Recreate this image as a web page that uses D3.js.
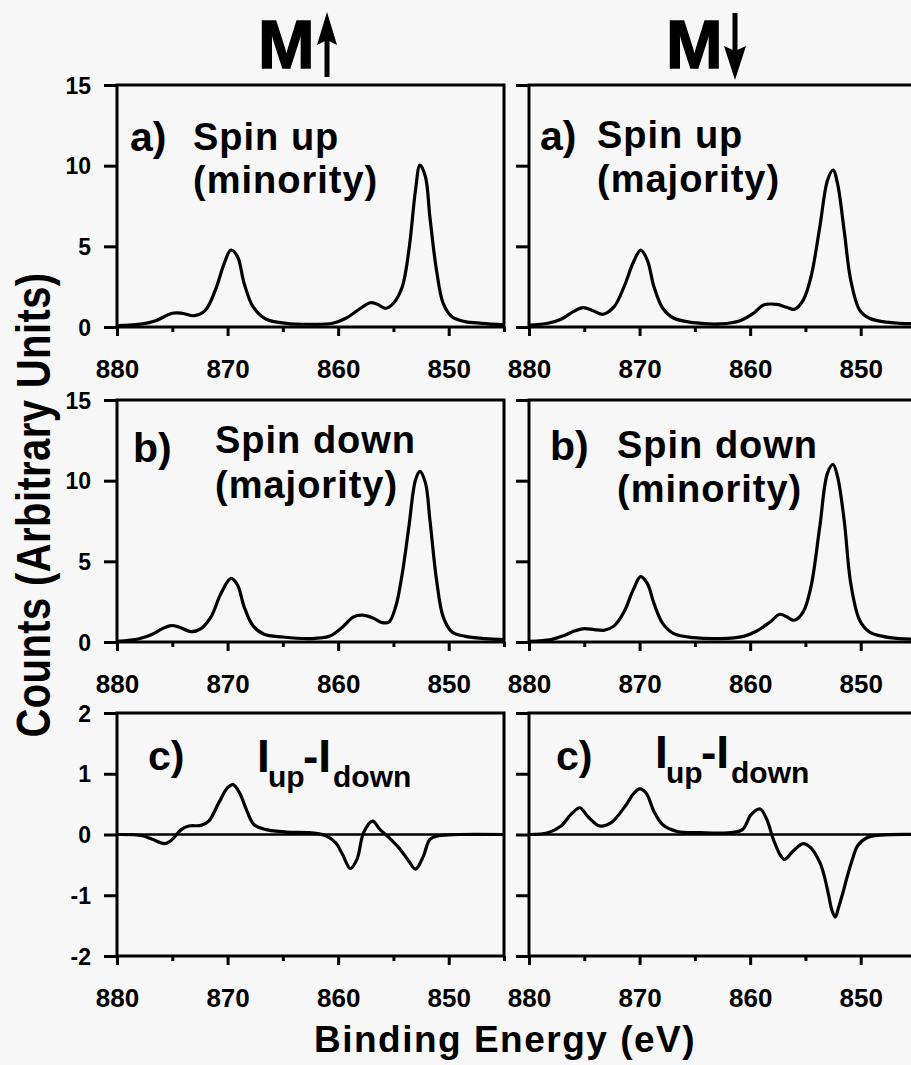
<!DOCTYPE html>
<html><head><meta charset="utf-8">
<script src="https://cdn.jsdelivr.net/npm/d3@7"></script>
<style>
html,body{margin:0;padding:0;background:#f7f7f7;}
svg{display:block;}
text{font-family:"Liberation Sans",Arial,Helvetica,sans-serif;font-weight:bold;fill:#000;}
</style></head><body>
<svg id="chart" width="911" height="1065"></svg>
<script>
// ---------- data ----------
const energyDomain = [880, 845];
const majorEnergyTicks = [880, 870, 860, 850];
const minorEnergyTicks = [875, 865, 855, 845];
const countTicks = [0, 5, 10, 15];
const diffTicks = [-2, -1, 0, 1, 2];
const columnTitles = ["M", "M"];

// M up, (a) spin up (minority)
const eA_up = [880, 877.7, 876.5, 875, 874.1, 873, 872, 871.1, 870.3, 869.7, 869.1, 868.5, 867.7, 866.5, 864.7, 862.6, 860.5, 859.3, 858.1, 857.1, 856.5, 855.7, 855, 854.2, 853.6, 853, 852.6, 852.1, 851.7, 851.1, 850.5, 849.7, 848.5, 847, 845];
const vA_up = [0.08, 0.19, 0.39, 0.85, 0.85, 0.70, 1.05, 2.3, 3.95, 4.77, 4.36, 2.7, 1.26, 0.48, 0.23, 0.17, 0.23, 0.54, 1.1, 1.5, 1.43, 1.16, 1.47, 2.5, 4.77, 8.5, 10.04, 9.3, 6.8, 3.5, 1.47, 0.64, 0.33, 0.23, 0.14];
// M down, (a) spin up (majority)
const eA_dn = [880, 878.3, 877.1, 876, 875.1, 874.2, 873.3, 872.3, 871.4, 870.6, 869.9, 869.3, 868.7, 867.9, 866.9, 865.1, 862.7, 860.9, 859.7, 858.8, 857.6, 856.7, 856, 855.2, 854.5, 853.7, 853, 852.5, 852.1, 851.5, 850.9, 850.1, 849.2, 848, 846.5, 845];
const vA_dn = [0.12, 0.23, 0.48, 0.95, 1.2, 1.01, 0.79, 1.26, 2.5, 3.95, 4.77, 4.15, 2.5, 1.16, 0.54, 0.27, 0.19, 0.39, 0.85, 1.36, 1.4, 1.22, 1.1, 1.67, 3.1, 6.2, 9.1, 9.73, 8.9, 6.0, 2.9, 1.05, 0.54, 0.33, 0.23, 0.2];
// M up, (b) spin down (majority)
const eB_up = [880, 878, 876.8, 875.9, 875.1, 874.4, 873.3, 872.4, 871.5, 870.6, 869.7, 869.1, 868.5, 867.7, 866.7, 865, 862.6, 860.8, 859.6, 858.6, 857.8, 856.9, 856, 855.4, 854.8, 854.2, 853.6, 853, 852.6, 852.1, 851.7, 851.1, 850.5, 849.7, 848.5, 846.7, 845];
const vB_up = [0.04, 0.2, 0.48, 0.83, 1.02, 0.93, 0.64, 0.83, 1.56, 3.0, 3.94, 3.53, 2.18, 1.0, 0.48, 0.31, 0.21, 0.35, 0.93, 1.56, 1.66, 1.51, 1.2, 1.24, 2.18, 4.25, 7.16, 10.06, 10.58, 9.85, 7.57, 3.84, 1.56, 0.62, 0.35, 0.21, 0.15];
// M down, (b) spin down (minority)
const eB_dn = [880, 878, 876.8, 875.9, 875, 874.1, 873.2, 872.3, 871.4, 870.6, 869.9, 869.3, 868.7, 867.9, 866.9, 865.1, 862.7, 860.6, 859.4, 858.2, 857.3, 856.7, 856, 855.2, 854.5, 853.7, 853, 852.5, 852.1, 851.5, 850.9, 850.1, 849.2, 848, 846.5, 845];
const vB_dn = [0.04, 0.15, 0.41, 0.68, 0.83, 0.77, 0.73, 1.0, 1.87, 3.2, 4.05, 3.63, 2.39, 1.14, 0.52, 0.27, 0.21, 0.35, 0.68, 1.24, 1.72, 1.56, 1.35, 1.87, 3.42, 7.16, 10.48, 11.0, 10.27, 7.57, 3.63, 1.35, 0.62, 0.35, 0.21, 0.17];
// M up, (c) I_up - I_down
const eC_up = [880, 877.7, 876.8, 875.7, 875, 874.2, 873.5, 872.4, 871.7, 870.8, 870, 869.5, 868.9, 868.3, 867.6, 866.5, 864.7, 862.6, 861.1, 860.2, 859.6, 858.9, 858.3, 857.7, 856.9, 856.2, 855.4, 854.5, 853.6, 853, 852.3, 851.7, 850.9, 849.1, 845];
const vC_up = [0, -0.02, -0.08, -0.15, -0.08, 0.08, 0.14, 0.15, 0.22, 0.52, 0.77, 0.82, 0.68, 0.41, 0.16, 0.08, 0.04, 0.03, -0.02, -0.14, -0.33, -0.56, -0.41, 0.03, 0.22, 0.08, -0.05, -0.22, -0.44, -0.57, -0.36, -0.08, -0.02, 0, 0];
// M down, (c) I_up - I_down
const eC_dn = [880, 878.3, 877.1, 876.2, 875.4, 874.7, 873.6, 872.6, 871.4, 870.5, 870, 869.4, 868.7, 867.9, 866.6, 864.5, 861.8, 860.7, 859.9, 859.1, 858.5, 857.9, 857.3, 856.9, 856.1, 855.2, 854.5, 853.7, 853.3, 852.9, 852.6, 852.3, 852.0, 851.6, 851.2, 850.7, 850.3, 849.4, 848.2, 845];
const vC_dn = [0, 0.03, 0.14, 0.33, 0.44, 0.3, 0.14, 0.19, 0.44, 0.68, 0.75, 0.68, 0.38, 0.16, 0.05, 0.03, 0.03, 0.08, 0.33, 0.42, 0.25, -0.08, -0.33, -0.41, -0.27, -0.15, -0.22, -0.46, -0.68, -1.0, -1.25, -1.36, -1.2, -0.95, -0.68, -0.38, -0.19, -0.05, -0.01, 0];

const labelsUp = [["a)", "Spin up", "(minority)"], ["b)", "Spin down", "(majority)"]];
const labelsDn = [["a)", "Spin up", "(majority)"], ["b)", "Spin down", "(minority)"]];

// ---------- layout ----------
const svg = d3.select("#chart");
svg.append("rect").attr("width", 911).attr("height", 1065).attr("fill", "#f7f7f7");

const cols = [{x0: 117, x1: 504, labels: true}, {x0: 529, x1: 916, labels: false}];
const rows = [
  {top: 85, bottom: 327, domain: [0, 15], ticks: countTicks},
  {top: 400, bottom: 642, domain: [0, 15], ticks: countTicks},
  {top: 713, bottom: 956, domain: [-2, 2], ticks: diffTicks}
];
const series = [
  [[eA_up, vA_up], [eA_dn, vA_dn]],
  [[eB_up, vB_up], [eB_dn, vB_dn]],
  [[eC_up, vC_up], [eC_dn, vC_dn]]
];

rows.forEach((row, ri) => {
  cols.forEach((col, ci) => {
    const x = d3.scaleLinear().domain(energyDomain).range([col.x0, col.x1]);
    const y = d3.scaleLinear().domain(row.domain).range([row.bottom, row.top]);

    // x axis major
    const gx = svg.append("g").attr("transform", `translate(0,${row.bottom})`)
      .call(d3.axisBottom(x).tickValues(majorEnergyTicks).tickSize(9).tickFormat(d3.format("d")));
    gx.attr("font-family", null).attr("font-size", null);
    gx.select(".domain").remove();
    gx.selectAll(".tick line").attr("stroke", "#000").attr("stroke-width", 3);
    gx.selectAll(".tick text").attr("y", 51).attr("dy", null).style("font-size", "26px");
    // x axis minor
    const gm = svg.append("g").attr("transform", `translate(0,${row.bottom})`)
      .call(d3.axisBottom(x).tickValues(minorEnergyTicks).tickSize(5).tickFormat(""));
    gm.select(".domain").remove();
    gm.selectAll(".tick line").attr("stroke", "#000").attr("stroke-width", 3);

    // y axis
    const gy = svg.append("g").attr("transform", `translate(${col.x0},0)`)
      .call(d3.axisLeft(y).tickValues(row.ticks).tickSize(13).tickPadding(13)
        .tickFormat(col.labels ? (d => String(d)) : ""));
    gy.attr("font-family", null).attr("font-size", null);
    gy.select(".domain").remove();
    gy.selectAll(".tick line").attr("stroke", "#000").attr("stroke-width", 3);
    gy.selectAll(".tick text").style("font-size", "23px").attr("dy", "0.35em");

    // frame
    svg.append("rect")
      .attr("x", col.x0).attr("y", row.top)
      .attr("width", col.x1 - col.x0).attr("height", row.bottom - row.top)
      .attr("fill", "none").attr("stroke", "#000").attr("stroke-width", 3);

    if (ri === 2) {
      svg.append("line")
        .attr("x1", col.x0).attr("x2", Math.min(col.x1, 911))
        .attr("y1", y(0)).attr("y2", y(0))
        .attr("stroke", "#000").attr("stroke-width", 2.5);
    }

    const [es, vs] = series[ri][ci];
    const line = d3.line()
      .x(d => x(d[0])).y(d => y(d[1]))
      .curve(d3.curveCatmullRom.alpha(0.5));
    svg.append("path")
      .datum(d3.zip(es, vs))
      .attr("d", line)
      .attr("fill", "none").attr("stroke", "#000")
      .attr("stroke-width", 3.2).attr("stroke-linejoin", "round");
  });
});

// ---------- panel annotations ----------
function panelText(letter, l1, l2, lx, lb, tx, b1, b2) {
  svg.append("text").attr("x", lx).attr("y", lb).style("font-size", "41px").text(letter);
  svg.append("text").attr("x", tx).attr("y", b1).style("font-size", "38px").style("letter-spacing", "1px").text(l1);
  svg.append("text").attr("x", tx).attr("y", b2).style("font-size", "38px").style("letter-spacing", "1px").text(l2);
}
panelText(labelsUp[0][0], labelsUp[0][1], labelsUp[0][2], 130, 151, 193, 150, 193);
panelText(labelsDn[0][0], labelsDn[0][1], labelsDn[0][2], 540, 150, 597, 148, 192);
panelText(labelsUp[1][0], labelsUp[1][1], labelsUp[1][2], 133, 462, 215, 453, 498);
panelText(labelsDn[1][0], labelsDn[1][1], labelsDn[1][2], 550, 460, 617, 458, 502);

function diffText(lx, ix, base) {
  svg.append("text").attr("x", lx).attr("y", 770).style("font-size", "41px").text("c)");
  svg.append("text").attr("x", ix).attr("y", base).style("font-size", "46px").text("I");
  svg.append("text").attr("x", ix + 11).attr("y", base + 15).style("font-size", "30px").text("up");
  svg.append("text").attr("x", ix + 46).attr("y", base).style("font-size", "46px").text("-I");
  svg.append("text").attr("x", ix + 76).attr("y", base + 15).style("font-size", "30px").text("down");
}
diffText(148, 257, 772);
diffText(556, 655, 768);

// ---------- column titles ----------
svg.append("text").attr("x", 258).attr("y", 68).style("font-size", "68px")
  .attr("stroke", "#000").attr("stroke-width", 1.5).text(columnTitles[0]);
svg.append("text").attr("x", 666).attr("y", 68).style("font-size", "68px")
  .attr("stroke", "#000").attr("stroke-width", 1.5).text(columnTitles[1]);
// up arrow
svg.append("rect").attr("x", 324.5).attr("y", 36).attr("width", 5).attr("height", 41).attr("fill", "#000");
svg.append("path").attr("d", "M327,12 L337,45 L327,40 L317,45 Z").attr("fill", "#000");
// down arrow
svg.append("rect").attr("x", 732.5).attr("y", 13).attr("width", 5).attr("height", 42).attr("fill", "#000");
svg.append("path").attr("d", "M735,80 L746,46 L735,51 L724,46 Z").attr("fill", "#000");

// ---------- axis titles ----------
svg.append("text").attr("x", 505).attr("y", 1052).attr("text-anchor", "middle")
  .style("font-size", "37px").style("letter-spacing", "1.5px").text("Binding Energy (eV)");
svg.append("text").attr("transform", "translate(50,505) rotate(-90) scale(1,1.2)")
  .attr("text-anchor", "middle").style("font-size", "40px").style("letter-spacing", "0.4px")
  .text("Counts (Arbitrary Units)");
</script>
</body></html>
